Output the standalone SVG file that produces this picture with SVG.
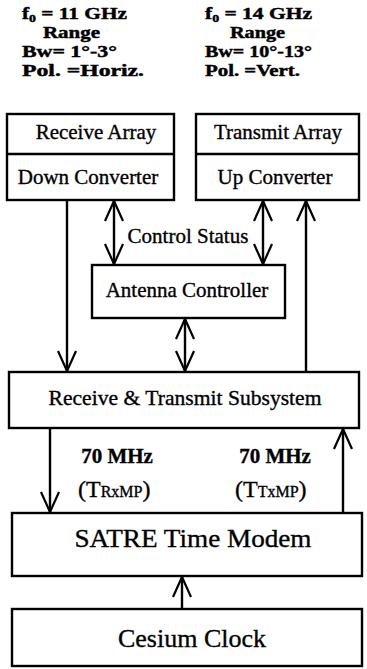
<svg xmlns="http://www.w3.org/2000/svg" width="367" height="669" viewBox="0 0 367 669">
<defs>
<marker id="ah" markerUnits="userSpaceOnUse" viewBox="-22 -12 24 24" refX="0" refY="0" markerWidth="24" markerHeight="24" orient="auto-start-reverse" overflow="visible">
<path d="M -20 -9 L 0 0 L -20 9" fill="none" stroke="#000" stroke-width="2.2"/>
</marker>
</defs>
<style>
.box{fill:#fff;stroke:#000;stroke-width:2.4}
.ln{fill:none;stroke:#000;stroke-width:2.4}
.t{font-family:"Liberation Serif","Times New Roman",serif;fill:#000;stroke:#000;stroke-width:0.35}
.lab{font-size:21px}
.big{font-size:26px}
.hd{font-size:17px;font-weight:bold;stroke-width:0.45}
.a1{marker-end:url(#ah)}
.a2{marker-start:url(#ah);marker-end:url(#ah)}
</style>
<rect width="367" height="669" fill="#fff"/>
<g id="rx-spec" class="t hd">
<text x="22" y="19" textLength="105" lengthAdjust="spacingAndGlyphs">f<tspan font-size="11" dy="3">0</tspan><tspan dy="-3"> = 11 GHz</tspan></text>
<text x="43" y="38" textLength="57" lengthAdjust="spacingAndGlyphs">Range</text>
<text x="22" y="57" textLength="95" lengthAdjust="spacingAndGlyphs">Bw= 1°-3°</text>
<text x="22" y="76" textLength="122" lengthAdjust="spacingAndGlyphs">Pol. =Horiz.</text>
</g>
<g id="tx-spec" class="t hd">
<text x="205" y="19" textLength="107" lengthAdjust="spacingAndGlyphs">f<tspan font-size="11" dy="3">0</tspan><tspan dy="-3"> = 14 GHz</tspan></text>
<text x="230" y="38" textLength="55" lengthAdjust="spacingAndGlyphs">Range</text>
<text x="205" y="57" textLength="107" lengthAdjust="spacingAndGlyphs">Bw= 10°-13°</text>
<text x="205" y="76" textLength="95" lengthAdjust="spacingAndGlyphs">Pol. =Vert.</text>
</g>
<g id="connectors">
<line class="ln a2" x1="114" y1="201" x2="114" y2="264"/>
<line class="ln a2" x1="263" y1="201" x2="263" y2="264"/>
<line class="ln a1" x1="67" y1="201" x2="67" y2="371"/>
<line class="ln a1" x1="306" y1="372" x2="306" y2="201"/>
<line class="ln a2" x1="185" y1="319" x2="185" y2="371"/>
<line class="ln a1" x1="50" y1="429" x2="50" y2="512"/>
<line class="ln a1" x1="343" y1="513" x2="343" y2="429"/>
<line class="ln a1" x1="182" y1="609" x2="182" y2="577"/>
<text class="t lab" x="188" y="243" text-anchor="middle">Control Status</text>
</g>
<g id="receive-array">
<rect class="box" x="7" y="114" width="167" height="86"/>
<line class="ln" x1="7" y1="154" x2="174" y2="154"/>
<text class="t lab" x="96" y="139" text-anchor="middle">Receive Array</text>
<text class="t lab" x="88" y="184" text-anchor="middle">Down Converter</text>
</g>
<g id="transmit-array">
<rect class="box" x="196" y="114" width="163" height="86"/>
<line class="ln" x1="196" y1="154" x2="359" y2="154"/>
<text class="t lab" x="278" y="139" text-anchor="middle">Transmit Array</text>
<text class="t lab" x="275" y="184" text-anchor="middle">Up Converter</text>
</g>
<g id="antenna-controller">
<rect class="box" x="92" y="265" width="193" height="53"/>
<text class="t lab" x="187" y="297" text-anchor="middle">Antenna Controller</text>
</g>
<g id="rt-subsystem">
<rect class="box" x="9" y="372" width="350" height="56"/>
<text class="t lab" x="185" y="405" text-anchor="middle" textLength="273" lengthAdjust="spacingAndGlyphs">Receive &amp; Transmit Subsystem</text>
</g>
<g id="if-labels" class="t">
<text class="lab" x="117" y="463" text-anchor="middle" font-weight="bold">70 MHz</text>
<text x="78" y="497" font-size="24">(T<tspan font-size="16">RxMP</tspan>)</text>
<text class="lab" x="275" y="463" text-anchor="middle" font-weight="bold">70 MHz</text>
<text x="235" y="497" font-size="24">(T<tspan font-size="16">TxMP</tspan>)</text>
</g>
<g id="satre-modem">
<rect class="box" x="12" y="513" width="350" height="63"/>
<text class="t big" x="193" y="547" text-anchor="middle" textLength="237" lengthAdjust="spacingAndGlyphs">SATRE Time Modem</text>
</g>
<g id="cesium-clock">
<rect class="box" x="12" y="609" width="350" height="57"/>
<text class="t big" x="192" y="647" text-anchor="middle">Cesium Clock</text>
</g>
</svg>
